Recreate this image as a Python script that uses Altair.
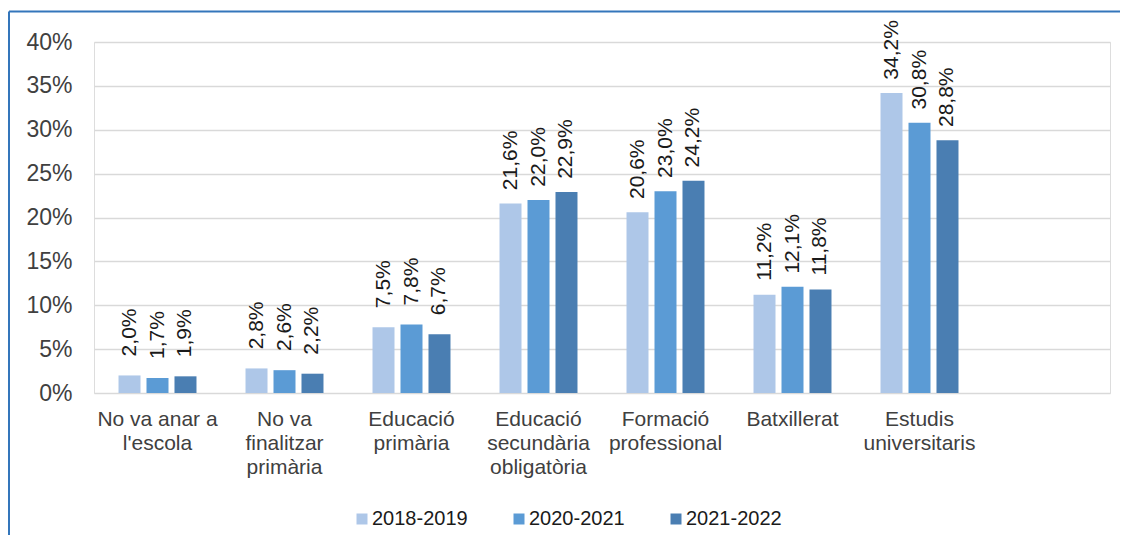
import altair as alt
import pandas as pd

categories = [
    "No va anar a|l'escola",
    "No va|finalitzar|primària",
    "Educació|primària",
    "Educació|secundària|obligatòria",
    "Formació|professional",
    "Batxillerat",
    "Estudis|universitaris",
]
empty_slot = [" "]
seasons = ["2018-2019", "2020-2021", "2021-2022"]
s2018 = [2.0, 2.8, 7.5, 21.6, 20.6, 11.2, 34.2]
s2020 = [1.7, 2.6, 7.8, 22.0, 23.0, 12.1, 30.8]
s2021 = [1.9, 2.2, 6.7, 22.9, 24.2, 11.8, 28.8]
colors = ["#aec7e8", "#5b9bd5", "#4a7eb2"]
y_ticks = [0, 5, 10, 15, 20, 25, 30, 35, 40]

rows = []
for season, vals in zip(seasons, [s2018, s2020, s2021]):
    for c, v in zip(categories, vals):
        rows.append({"cat": c, "season": season, "v": v})
df = pd.DataFrame(rows)

FONT = "Liberation Sans"
W, H = 1016, 351

x_enc = alt.X(
    "cat:N",
    scale=alt.Scale(domain=categories + empty_slot, paddingInner=0.386, paddingOuter=0.193),
    axis=alt.Axis(
        title=None, labelAngle=0, domain=False, ticks=False, tickSize=0,
        labelPadding=15, labelFontSize=21, labelColor="#404040", labelFont=FONT,
        labelLineHeight=24, labelLimit=400,
        labelExpr="split(datum.label, '|')",
    ),
)
xoff = alt.XOffset(
    "season:N",
    scale=alt.Scale(domain=seasons, paddingInner=0.214, paddingOuter=0),
)
y_enc = alt.Y(
    "v:Q",
    scale=alt.Scale(domain=[0, 40], nice=False),
    axis=alt.Axis(
        title=None, values=y_ticks, labelExpr="datum.value + '%'",
        domain=False, ticks=False, tickSize=0, labelPadding=22,
        labelFontSize=23, labelColor="#404040", labelFont=FONT,
        grid=True, gridColor="#d9d9d9", gridWidth=1.5,
    ),
)

base = alt.Chart(df)
bars = base.mark_bar().encode(
    x=x_enc, xOffset=xoff, y=y_enc,
    color=alt.Color(
        "season:N",
        scale=alt.Scale(domain=seasons, range=colors),
        legend=alt.Legend(
            title=None, orient="none", direction="horizontal",
            legendX=258, legendY=467, padding=0,
            symbolType="square", symbolSize=121, symbolStrokeWidth=0,
            labelFontSize=20, labelFont=FONT, labelColor="#1a1a1a",
            labelOffset=0, columnPadding=41,
        ),
    ),
)
labels = base.transform_calculate(
    lbl="replace(format(datum.v, '.1f'), '.', ',') + '%'"
).mark_text(
    angle=270, align="center", baseline="middle", dx=43,
    fontSize=21, font=FONT, color="#1a1a1a",
).encode(x=alt.X("cat:N"), xOffset=alt.XOffset("season:N"), y=alt.Y("v:Q"), text="lbl:N")

one = alt.Chart(pd.DataFrame({"a": [0]}))
top_line = one.mark_rule(color="#3476bb", strokeWidth=2).encode(
    x=alt.value(-85), x2=alt.value(1040), y=alt.value(-30.5)
)
left_line = one.mark_rule(color="#3476bb", strokeWidth=2).encode(
    x=alt.value(-85), y=alt.value(-30.5), y2=alt.value(500)
)

chart = alt.layer(bars, labels, top_line, left_line).properties(
    width=W, height=H,
    autosize=alt.AutoSizeParams(type="none"),
    padding={"left": 86, "top": 34, "right": 10, "bottom": 142},
).configure_view(stroke=None).configure(background="white")

chart.save("out.html", embed_options={"renderer": "svg", "actions": False})
